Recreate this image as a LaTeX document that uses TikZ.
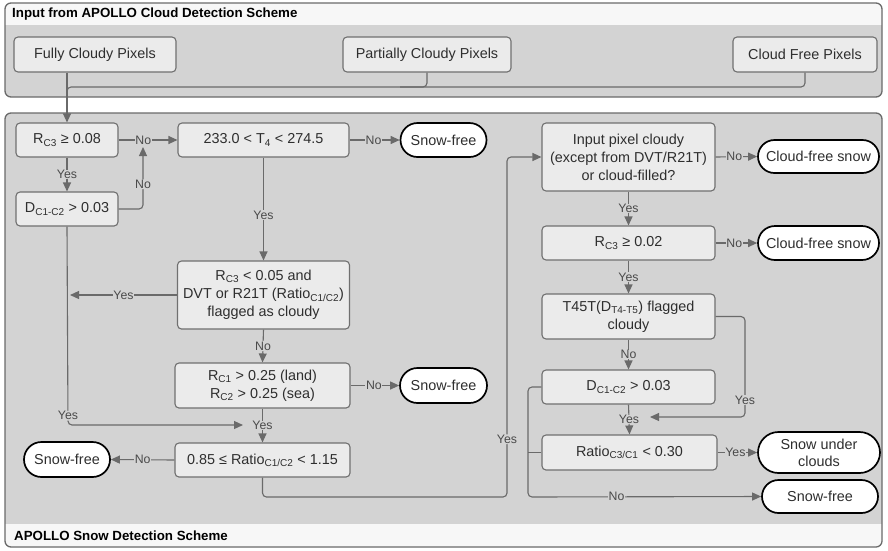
\documentclass[tikz,border=0pt]{standalone}
\usepackage{fontspec}
\setmainfont{Liberation Sans}
\usetikzlibrary{arrows.meta,shapes.misc}
\newcommand\sbs[1]{\textsubscript{#1}}
\definecolor{panel}{HTML}{D3D3D3}
\definecolor{panelline}{HTML}{6A6A6A}
\definecolor{headfill}{HTML}{F7F7F7}
\definecolor{boxfill}{HTML}{EBEBEB}
\definecolor{boxline}{HTML}{707070}
\definecolor{conncol}{HTML}{6A6A6A}
\definecolor{labtext}{HTML}{4A4A4A}
\definecolor{boxtext}{HTML}{2E2E2E}
\begin{document}
\begin{tikzpicture}[x=1pt,y=-1pt,
  box/.style={draw=boxline, fill=boxfill, rounded corners=4pt, line width=1.1pt,
    font=\fontsize{14.4}{18}\selectfont, text=boxtext, align=center, inner sep=0pt},
  term/.style={rounded rectangle, draw=black, fill=white, line width=1.7pt,
    font=\fontsize{14.4}{17}\selectfont, text=boxtext, align=center, inner sep=0pt},
  lab/.style={fill=panel, inner sep=0.6pt, font=\fontsize{12.3}{14}\selectfont, text=labtext},
  conn/.style={draw=conncol, line width=1.1pt, -{Triangle[length=9pt,width=8pt]}},
  plain/.style={draw=conncol, line width=1.1pt},
  paneltitle/.style={anchor=west, font=\bfseries\fontsize{13.3}{15}\selectfont, text=black, inner sep=0pt}
]
\useasboundingbox (0,0) rectangle (888,550);

% ---------- top panel ----------
\fill[panel, rounded corners=6pt] (5,3) rectangle (882,97);
\begin{scope}
  \clip[rounded corners=6pt] (5,3) rectangle (882,97);
  \fill[headfill] (5,3) rectangle (882,25);
\end{scope}
\draw[panelline, line width=1.3pt, rounded corners=6pt] (5,3) rectangle (882,97);
\node[paneltitle] (hdr1) at (12,14.5) {Input from APOLLO Cloud Detection Scheme};

% ---------- bottom panel ----------
\fill[panel, rounded corners=6pt] (5,113) rectangle (882,547);
\begin{scope}
  \clip[rounded corners=6pt] (5,113) rectangle (882,547);
  \fill[headfill] (5,524) rectangle (882,547);
\end{scope}
\draw[panelline, line width=1.3pt, rounded corners=6pt] (5,113) rectangle (882,547);
\node[paneltitle] (hdr2) at (14,535.5) {APOLLO Snow Detection Scheme};

% ---------- input nodes ----------
\node[box, minimum width=162pt, minimum height=35pt] (FC) at (95,54.5) {Fully Cloudy Pixels};
\node[box, minimum width=168pt, minimum height=35pt] (PC) at (427,54.5) {Partially Cloudy Pixels};
\node[box, minimum width=144pt, minimum height=35pt] (CF) at (805,54.5) {Cloud Free Pixels};

% ---------- left column ----------
\node[box, minimum width=102pt, minimum height=34pt] (RC3) at (67,140) {R\sbs{C3} ≥ 0.08};
\node[box, minimum width=102pt, minimum height=34pt] (D) at (67,209) {D\sbs{C1-C2} > 0.03};
\node[box, minimum width=171pt, minimum height=34pt] (T4) at (263.5,140) {233.0 < T\sbs{4} < 274.5};
\node[term, minimum width=86pt, minimum height=34pt] (SF1) at (443.5,140) {Snow-free};
\node[box, minimum width=172pt, minimum height=68pt] (R5) at (263.5,295)
  {R\sbs{C3} < 0.05 and\\DVT or R21T (Ratio\sbs{C1/C2})\\flagged as cloudy};
\node[box, minimum width=175pt, minimum height=45pt] (RC1) at (262.5,385.5)
  {R\sbs{C1} > 0.25 (land)\\R\sbs{C2} > 0.25 (sea)};
\node[term, minimum width=87pt, minimum height=35pt] (SF2) at (443.5,385.5) {Snow-free};
\node[box, minimum width=175pt, minimum height=34pt] (Rt) at (262.5,460) {0.85 ≤ Ratio\sbs{C1/C2} < 1.15};
\node[term, minimum width=86pt, minimum height=35pt] (SF3) at (67,459.5) {Snow-free};

% ---------- right column ----------
\node[box, minimum width=173pt, minimum height=68pt] (IN) at (628.5,157)
  {Input pixel cloudy\\(except from DVT/R21T)\\or cloud-filled?};
\node[term, minimum width=121pt, minimum height=33pt] (CFS1) at (818.5,156.5) {Cloud-free snow};
\node[box, minimum width=173pt, minimum height=34pt] (RC3b) at (628.5,243) {R\sbs{C3} ≥ 0.02};
\node[term, minimum width=121pt, minimum height=34pt] (CFS2) at (818.5,243) {Cloud-free snow};
\node[box, minimum width=173pt, minimum height=45pt] (T45) at (628.5,316.5)
  {T45T(D\sbs{T4-T5}) flagged\\cloudy};
\node[box, minimum width=173pt, minimum height=34pt] (Db) at (628.5,387) {D\sbs{C1-C2} > 0.03};
\node[box, minimum width=175pt, minimum height=35pt] (Rb) at (629.5,452.5) {Ratio\sbs{C3/C1} < 0.30};
\node[term, minimum width=122pt, minimum height=41pt] (SUC) at (819,452.5) {Snow under\\clouds};
\node[term, minimum width=116pt, minimum height=33pt] (SF4) at (820,496.5) {Snow-free};

% ---------- waypoints ----------
\coordinate (jtop) at (67,87);
\coordinate (jpc) at (400,87);
\coordinate (jno) at (143,147);
\coordinate (yl) at (70,295);
\coordinate (ybot) at (68,425);
\coordinate (ya) at (243,425);
\coordinate (rb1) at (507,497);
\coordinate (rb2) at (507,157);
\coordinate (t1) at (745,316.5);
\coordinate (t2) at (745,417);
\coordinate (t3) at (650,417);
\coordinate (d1) at (528,387);
\coordinate (d2) at (528,497);
\coordinate (d3) at (528,452.5);

% ---------- connectors: input ----------
\draw[conn] (RC3.north |- FC.south) -- (RC3.north);
\draw[plain, rounded corners=4pt] (CF.south) |- (jtop) -- ++(0,8);
\draw[plain, rounded corners=4pt] (PC.south) |- (jpc);

% ---------- connectors: left ----------
\draw[conn] (RC3.east) -- node[lab, pos=0.42]{No} (T4.west);
\draw[conn] (RC3.south) -- node[lab]{Yes} (D.north);
\draw[conn, rounded corners=4pt] (D.east) -| node[lab, pos=0.7]{No} (jno);
\draw[conn] (T4.east) -- node[lab, pos=0.48]{No} (SF1.west);
\draw[conn] (T4.south) -- node[lab, pos=0.56]{Yes} (R5.north);
\draw[conn] (R5.west) -- node[lab, pos=0.5]{Yes} (yl);
\draw[conn, rounded corners=4pt] (D.south) -- node[lab, pos=0.953]{Yes} (ybot) -- (ya);
\draw[conn] (R5.south) -- node[lab]{No} (RC1.north);
\draw[conn] (RC1.east) -- node[lab, pos=0.48]{No} (SF2.west);
\draw[conn] (RC1.south) -- node[lab]{Yes} (Rt.north);
\draw[conn] (Rt.west) -- node[lab, pos=0.5]{No} (SF3.east);
\draw[conn, rounded corners=4pt] (Rt.south) |- (rb1) -- node[lab, pos=0.17]{Yes} (rb2) -- (IN.west);

% ---------- connectors: right ----------
\draw[conn] (IN.east) -- node[lab, pos=0.45]{No} (CFS1.west);
\draw[conn] (IN.south) -- node[lab]{Yes} (RC3b.north);
\draw[conn] (RC3b.east) -- node[lab, pos=0.45]{No} (CFS2.west);
\draw[conn] (RC3b.south) -- node[lab]{Yes} (T45.north);
\draw[conn] (T45.south) -- node[lab]{No} (Db.north);
\draw[conn] (Db.south) -- node[lab]{Yes} (Rb.north);
\draw[conn, rounded corners=4pt] (T45.east) -- (t1) -- node[lab, pos=0.83]{Yes} (t2) -- (t3);
\draw[conn] (Rb.east) -- node[lab, pos=0.45]{Yes} (SUC.west);
\draw[conn, rounded corners=4pt] (Db.west) -- (d1) -- (d2) -- node[lab, pos=0.38]{No} (SF4.west);
\draw[plain] (Rb.west) -- (d3);
\end{tikzpicture}
\end{document}
